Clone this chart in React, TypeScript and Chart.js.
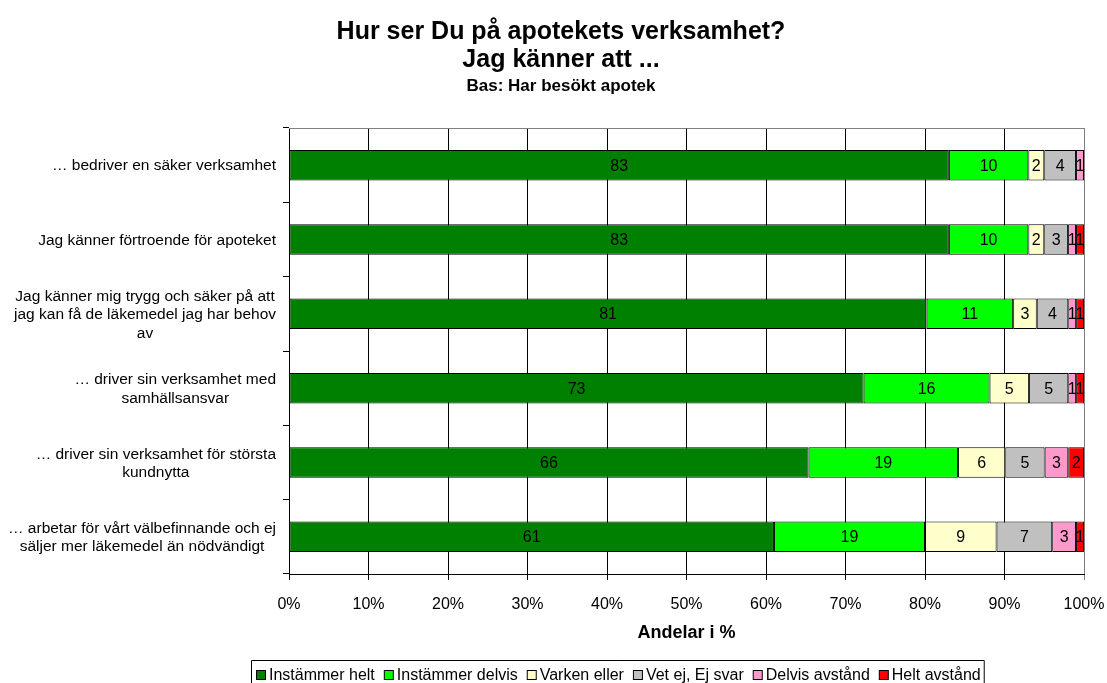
import React, { useEffect, useRef } from "react";
import { Chart, registerables } from "chart.js";

Chart.register(...registerables);

const FONT = "'Liberation Sans', Arial, Helvetica, sans-serif";

const categories: string[][] = [
  ["… bedriver en säker verksamhet"],
  ["Jag känner förtroende för apoteket"],
  ["Jag känner mig trygg och säker på att", "jag kan få de läkemedel jag har behov", "av"],
  ["… driver sin verksamhet med", "samhällsansvar"],
  ["… driver sin verksamhet för största", "kundnytta"],
  ["… arbetar för vårt välbefinnande och ej", "säljer mer läkemedel än nödvändigt"],
];

const seriesNames = [
  "Instämmer helt",
  "Instämmer delvis",
  "Varken eller",
  "Vet ej, Ej svar",
  "Delvis avstånd",
  "Helt avstånd",
];

const instammerHelt = [83, 83, 81, 73, 66, 61];
const instammerDelvis = [10, 10, 11, 16, 19, 19];
const varkenEller = [2, 2, 3, 5, 6, 9];
const vetEj = [4, 3, 4, 5, 5, 7];
const delvisAvstand = [1, 1, 1, 1, 3, 3];
const heltAvstand = [0, 1, 1, 1, 2, 1];

const seriesColors = ["#008000", "#00FF00", "#FFFFCC", "#C0C0C0", "#FF99CC", "#FF0000"];

const xTicks = [0, 10, 20, 30, 40, 50, 60, 70, 80, 90, 100];

const titleLines = ["Hur ser Du på apotekets verksamhet?", "Jag känner att ..."];
const subtitle = "Bas: Har besökt apotek";
const xAxisTitle = "Andelar i %";

const allSeries = [instammerHelt, instammerDelvis, varkenEller, vetEj, delvisAvstand, heltAvstand];
const rowTotals = categories.map((_, i) => allSeries.reduce((s, arr) => s + arr[i], 0));

const customDraw = {
  id: "customDraw",
  beforeDraw(chart: any) {
    const { ctx, width, height } = chart;
    ctx.save();
    ctx.fillStyle = "#ffffff";
    ctx.fillRect(0, 0, width, height);
    ctx.restore();
  },
  afterDatasetsDraw(chart: any) {
    const { ctx } = chart;
    ctx.save();
    ctx.font = `16px ${FONT}`;
    ctx.fillStyle = "#000";
    ctx.textAlign = "center";
    ctx.textBaseline = "middle";
    chart.data.datasets.forEach((ds: any, di: number) => {
      const meta = chart.getDatasetMeta(di);
      meta.data.forEach((el: any, i: number) => {
        const raw = allSeries[di][i];
        if (!raw) return;
        const cx = (el.x + el.base) / 2;
        ctx.fillText(String(raw), cx, el.y + 1);
      });
    });
    ctx.restore();
  },
  afterDraw(chart: any) {
    const { ctx, chartArea } = chart;
    const yScale = chart.scales.y;
    ctx.save();
    // top border of plot area
    ctx.strokeStyle = "#808080";
    ctx.lineWidth = 1;
    ctx.beginPath();
    ctx.moveTo(chartArea.left, chartArea.top + 0.5);
    ctx.lineTo(chartArea.right, chartArea.top + 0.5);
    ctx.stroke();

    // titles
    const cx = 561;
    ctx.fillStyle = "#000";
    ctx.textAlign = "center";
    ctx.textBaseline = "middle";
    ctx.font = `bold 25px ${FONT}`;
    ctx.fillText(titleLines[0], cx, 32);
    ctx.fillText(titleLines[1], cx, 60);
    ctx.font = `bold 17px ${FONT}`;
    ctx.fillText(subtitle, cx, 86);

    // y category labels
    ctx.font = `15.5px ${FONT}`;
    const lineH = 18.5;
    categories.forEach((lines, i) => {
      const y = yScale.getPixelForValue(i);
      const maxW = Math.max(...lines.map((l) => ctx.measureText(l).width));
      const bx = 276 - maxW / 2;
      const startY = y - ((lines.length - 1) * lineH) / 2;
      lines.forEach((l, k) => {
        ctx.fillText(l, bx, startY + k * lineH + 1);
      });
    });

    // x axis title
    ctx.font = `bold 18px ${FONT}`;
    ctx.fillText(xAxisTitle, (chartArea.left + chartArea.right) / 2, 633);

    // legend
    ctx.font = `16px ${FONT}`;
    ctx.textAlign = "left";
    const legTop = 660;
    const legY = 675;
    let x = 256;
    seriesNames.forEach((name, i) => {
      ctx.fillStyle = seriesColors[i];
      ctx.fillRect(x + 0.5, legY - 4.5, 9, 9);
      ctx.strokeStyle = "#000";
      ctx.strokeRect(x + 0.5, legY - 4.5, 9, 9);
      ctx.fillStyle = "#000";
      ctx.fillText(name, x + 13, legY + 1);
      x += 13 + ctx.measureText(name).width + 9;
    });
    ctx.strokeStyle = "#000";
    ctx.beginPath();
    ctx.rect(251.5, legTop + 0.5, x - 6 - 251, 40);
    ctx.stroke();
    ctx.restore();
  },
};

export default function App() {
  const canvasRef = useRef<HTMLCanvasElement | null>(null);

  useEffect(() => {
    if (!canvasRef.current) return;
    const chart = new Chart(canvasRef.current, {
      type: "bar",
      data: {
        labels: categories.map((c) => c.join(" ")),
        datasets: seriesNames.map((name, di) => ({
          label: name,
          data: allSeries[di].map((v, i) => (v / rowTotals[i]) * 100),
          backgroundColor: seriesColors[di],
          borderColor: "#000000",
          borderWidth: 1,
          borderSkipped: false,
          barPercentage: 0.41,
          categoryPercentage: 1,
        })),
      },
      options: {
        indexAxis: "y",
        responsive: false,
        animation: false,
        devicePixelRatio: 1,
        layout: { padding: { top: 128, right: 23, left: 0, bottom: 0 } },
        plugins: {
          legend: { display: false },
          title: { display: false },
          tooltip: { enabled: false },
        },
        scales: {
          x: {
            stacked: true,
            min: 0,
            max: 100,
            afterBuildTicks: (scale: any) => {
              scale.ticks = xTicks.map((v) => ({ value: v }));
            },
            ticks: {
              callback: (v: any) => `${v}%`,
              font: { family: FONT, size: 16 },
              color: "#000",
              padding: 15,
              maxRotation: 0,
            },
            grid: {
              color: (c: any) => (c.index === xTicks.length - 1 ? "#808080" : "#000000"),
              lineWidth: 1,
              tickLength: 6,
              drawTicks: true,
            },
            border: { color: "#000", width: 1 },
            afterFit: (scale: any) => {
              scale.height = 109;
              scale.paddingLeft = 0;
              scale.paddingRight = 0;
            },
          },
          y: {
            stacked: true,
            offset: true,
            ticks: { display: false },
            grid: {
              offset: true,
              drawOnChartArea: false,
              drawTicks: true,
              tickLength: 6,
              color: "#000",
            },
            border: { color: "#000", width: 1 },
            afterFit: (scale: any) => {
              scale.width = 289;
              scale.paddingTop = 0;
              scale.paddingBottom = 0;
            },
          },
        },
      },
      plugins: [customDraw],
    });
    return () => chart.destroy();
  }, []);

  return (
    <div style={{ position: "absolute", left: 0, top: 0, width: 1107, height: 683 }}>
      <canvas ref={canvasRef} width={1107} height={683} style={{ display: "block" }} />
    </div>
  );
}
